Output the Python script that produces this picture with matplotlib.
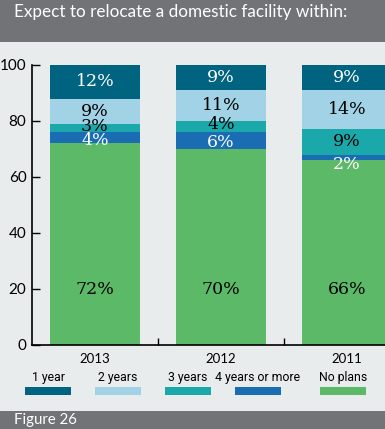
import matplotlib
matplotlib.use("Agg")
import matplotlib.pyplot as plt
from matplotlib.patches import Rectangle
import numpy as np

years = ["2013", "2012", "2011"]
series = ["1 year", "2 years", "3 years", "4 years or more", "No plans"]
no_plans = [72, 70, 66]
four_plus = [4, 6, 2]
three_yr = [3, 4, 9]
two_yr = [9, 11, 14]
one_yr = [12, 9, 9]
yticks = [0, 20, 40, 60, 80, 100]

colors = {"1 year": "#00637f", "2 years": "#a1d2e6", "3 years": "#1aa8aa",
          "4 years or more": "#1a6db3", "No plans": "#5cb968"}
txtcol = {"1 year": "white", "2 years": "black", "3 years": "black",
          "4 years or more": "white", "No plans": "black"}

bg = "#e8ecec"
band = "#727376"
W, H = 385, 429
fig = plt.figure(figsize=(W / 100, H / 100), dpi=100, facecolor=bg)

# header / footer bands
fig.patches.append(Rectangle((0, 1 - 42 / H), 1, 42 / H, transform=fig.transFigure,
                             facecolor=band, edgecolor="none", zorder=0))
fig.patches.append(Rectangle((0, 0), 1, 18 / H, transform=fig.transFigure,
                             facecolor=band, edgecolor="none", zorder=0))
fig.text(14 / W, 1 - 12 / H, "Expect to relocate a domestic facility within:",
         color="white", fontsize=12.3, family="Lato", va="center", ha="left")
fig.text(14 / W, 9 / H, "Figure 26", color="white", fontsize=10.8, family="Lato",
         va="center", ha="left")

ax = fig.add_axes([32 / W, (H - 345) / H, 378 / W, 280 / H])
ax.set_facecolor(bg)
x = np.arange(len(years))
order = [("No plans", no_plans), ("4 years or more", four_plus),
         ("3 years", three_yr), ("2 years", two_yr), ("1 year", one_yr)]
bottom = np.zeros(len(years))
for name, vals in order:
    vals = np.array(vals, dtype=float)
    ax.bar(x, vals, bottom=bottom, width=0.714, color=colors[name], edgecolor="none", zorder=2)
    for i, v in enumerate(vals):
        if name == "No plans":
            yy = 20
        else:
            yy = bottom[i] + v / 2
            if name == "4 years or more":
                yy = bottom[i] - 1.5 if v < 3 else yy - 0.8
            if name == "3 years" and v < 5:
                yy += 0.6
        ax.text(x[i], yy, f"{int(v)}%", ha="center", va="center",
                color=txtcol[name], fontsize=12.5, family="DejaVu Serif", zorder=3)
    bottom += vals

ax.set_xlim(-0.5, 2.5)
ax.set_ylim(0, 100)
ax.set_yticks(yticks)
ax.set_yticklabels([str(t) for t in yticks], family="Lato", fontsize=11)
ax.tick_params(axis="y", direction="in", length=6, width=1, pad=4, colors="black")
ax.set_xticks([0.5, 1.5])
ax.set_xticklabels([])
ax.tick_params(axis="x", direction="in", length=5, width=1)
for s in ["top", "right"]:
    ax.spines[s].set_visible(False)
for s in ["left", "bottom"]:
    ax.spines[s].set_linewidth(1.2)
    ax.spines[s].set_zorder(4)

for i, yr in enumerate(years):
    ax.text(x[i], -5, yr, ha="center", va="center", family="Lato", fontsize=9.5,
            transform=ax.transData, clip_on=False)

# legend
leg_centers = [48, 118, 188, 258, 343]
for name, cx in zip(series, leg_centers):
    fig.text(cx / W, 1 - 378 / H, name, ha="center", va="center", fontsize=8.8,
             family="Roboto")
    fig.patches.append(Rectangle(((cx - 23) / W, 1 - 395 / H), 46 / W, 8 / H,
                                 transform=fig.transFigure, facecolor=colors[name],
                                 edgecolor="none"))

fig.savefig("out.png", dpi=100, facecolor=bg)
